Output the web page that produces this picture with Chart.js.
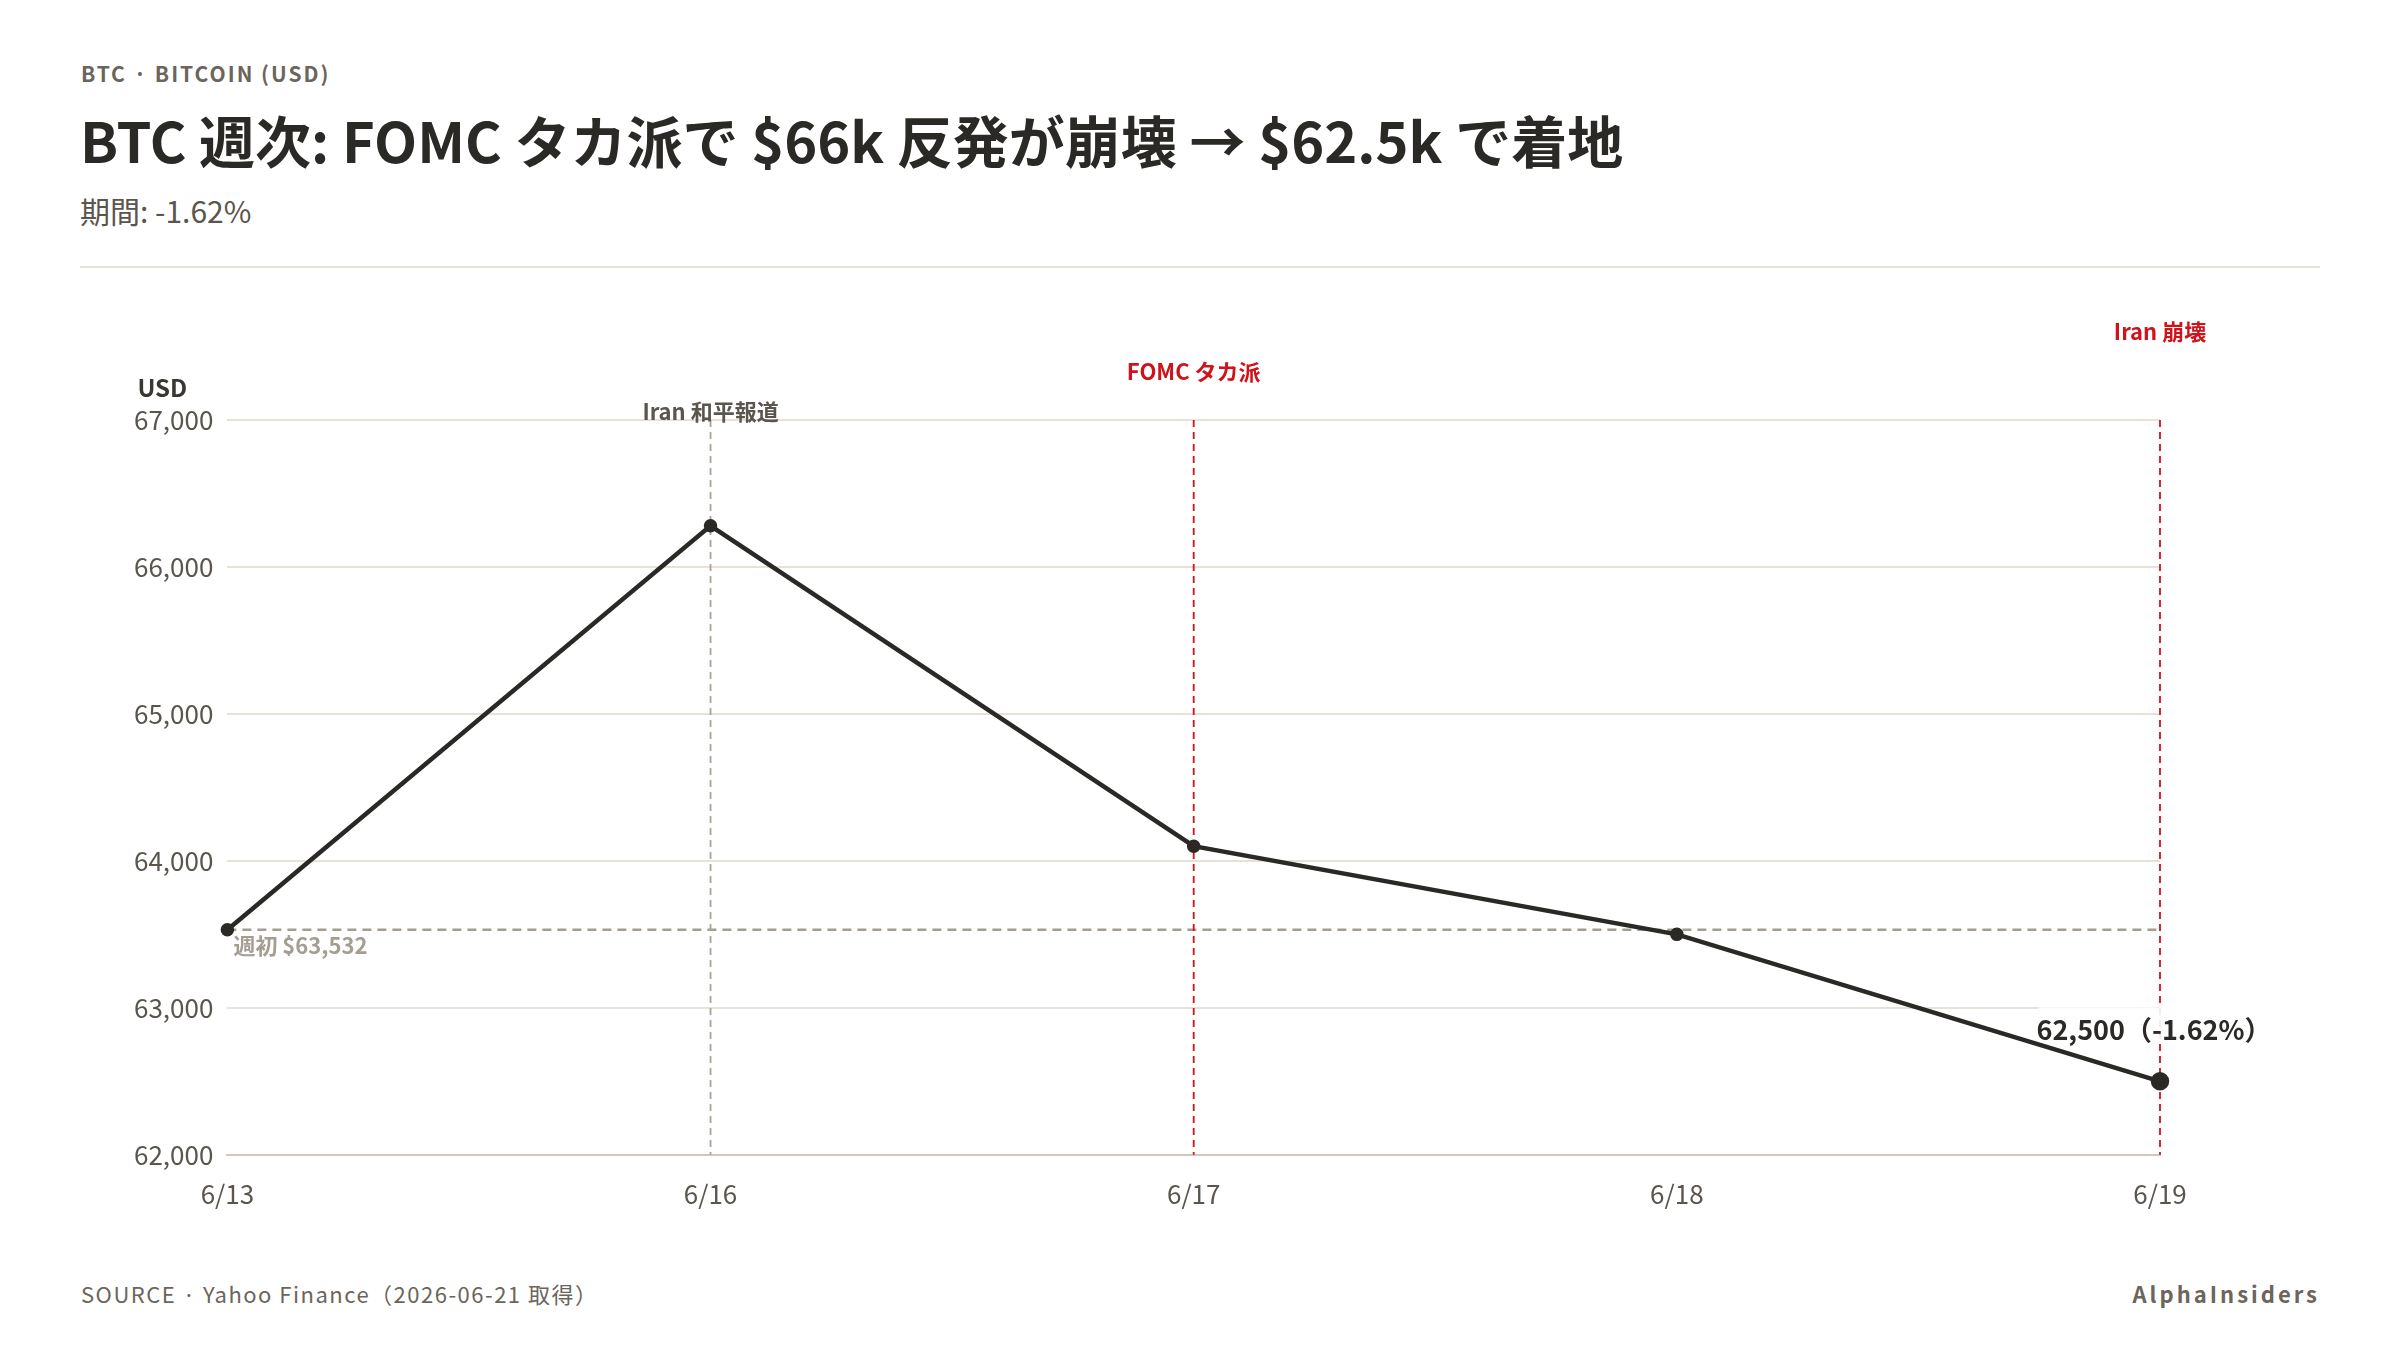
<!DOCTYPE html>
<html><head><meta charset="utf-8">
<script src="https://cdn.jsdelivr.net/npm/chart.js@4"></script>
<style>
body{margin:0;width:2400px;height:1350px;background:#fff;font-family:"Noto Sans CJK JP","Noto Sans",sans-serif;position:relative;overflow:hidden}
.kick{position:absolute;left:81px;top:58px;font-size:21px;letter-spacing:2px;color:#6b655b;font-weight:600}
h1{position:absolute;left:80px;top:98px;margin:0;font-size:56px;color:#2b2926;font-weight:700}
.sub{position:absolute;left:80px;top:188px;font-size:30px;color:#5a554d}
.rule{position:absolute;left:80px;right:80px;top:266px;height:2px;background:#e6e2d8}
.foot{position:absolute;left:81px;top:1277px;font-size:22px;letter-spacing:1.5px;color:#6b655b}
.brand{position:absolute;right:80px;top:1277px;font-size:22px;letter-spacing:3px;color:#6b655b;font-weight:600}
#wrap{position:absolute;left:0;top:300px;width:2400px;height:940px}
</style></head><body>
<div class="kick">BTC · BITCOIN (USD)</div>
<h1>BTC 週次: FOMC タカ派で $66k 反発が崩壊 → $62.5k で着地</h1>
<div class="sub">期間: -1.62%</div>
<div class="rule"></div>
<div id="wrap"><canvas id="c"></canvas></div>
<div class="foot">SOURCE · Yahoo Finance（2026-06-21 取得）</div>
<div class="brand">AlphaInsiders</div>
<script>
const labels = ['6/13', '6/16', '6/17', '6/18', '6/19'];
const prices = [63532, 66280, 64100, 63500, 62500];
const weekOpen = 63532;
const events = [
  { at: '6/16', text: 'Iran 和平報道', color: '#8a8478', rise: 0 },
  { at: '6/17', text: 'FOMC タカ派', color: '#d0121b', rise: 40 },
  { at: '6/19', text: 'Iran 崩壊', color: '#d0121b', rise: 80 }
];
const font = '"Noto Sans CJK JP","Noto Sans",sans-serif';

const overlay = {
  id: 'overlay',
  beforeDatasetsDraw(chart) {
    const { ctx, chartArea: a, scales: { x, y } } = chart;
    ctx.save();
    // week open line
    const yo = y.getPixelForValue(weekOpen);
    ctx.setLineDash([9, 6]); ctx.lineWidth = 2.5; ctx.strokeStyle = '#a39d92';
    ctx.beginPath(); ctx.moveTo(a.left, yo); ctx.lineTo(a.right, yo); ctx.stroke();
    // event lines
    events.forEach(e => {
      const px = x.getPixelForValue(labels.indexOf(e.at));
      ctx.setLineDash([7, 5]); ctx.lineWidth = 1.8;
      ctx.strokeStyle = e.color === '#d0121b' ? '#d0121b' : '#aaa398';
      ctx.beginPath(); ctx.moveTo(px, a.top); ctx.lineTo(px, a.bottom); ctx.stroke();
      ctx.setLineDash([]);
      ctx.fillStyle = e.color === '#d0121b' ? e.color : '#5a554d';
      ctx.font = '700 22px ' + font; ctx.textAlign = 'center'; ctx.textBaseline = 'bottom';
      ctx.fillText(e.text, px, a.top - e.rise + 3);
    });
    ctx.setLineDash([]);
    ctx.fillStyle = '#a39d92'; ctx.font = '700 22px ' + font;
    ctx.textAlign = 'left'; ctx.textBaseline = 'top';
    ctx.fillText('週初 $63,532', a.left + 6, yo + 5);
    ctx.fillStyle = '#3a3631'; ctx.font = '700 24px ' + font; ctx.textAlign = 'left'; ctx.textBaseline = 'bottom';
    ctx.fillText('USD', a.left - 90, a.top - 20);
    ctx.restore();
  },
  afterDatasetsDraw(chart) {
    const { ctx, scales: { x, y } } = chart;
    const i = prices.length - 1;
    const px = x.getPixelForValue(i), py = y.getPixelForValue(prices[i]);
    const txt = prices[i].toLocaleString('en-US') + '（-1.62%）';
    ctx.save();
    ctx.font = '700 27px ' + font; ctx.textAlign = 'center'; ctx.textBaseline = 'bottom';
    const w = ctx.measureText(txt).width;
    ctx.fillStyle = 'rgba(255,255,255,0.9)';
    ctx.fillRect(px - w / 2 - 4, py - 74, w - 10, 32);
    ctx.fillStyle = '#2b2926';
    ctx.fillText(txt, px - 6, py - 38);
    ctx.restore();
  }
};

new Chart(document.getElementById('c'), {
  type: 'line',
  data: {
    labels: labels,
    datasets: [{
      data: prices,
      borderColor: '#2b2926',
      backgroundColor: '#2b2926',
      borderWidth: 4.5,
      tension: 0,
      pointRadius: prices.map((v, i) => i === prices.length - 1 ? 7 : 4.5),
      pointBackgroundColor: '#2b2926'
    }]
  },
  options: {
    responsive: true,
    maintainAspectRatio: false,
    animation: false,
    layout: { padding: { left: 120, right: 240, top: 120, bottom: 6 } },
    plugins: { legend: { display: false }, tooltip: { enabled: false } },
    scales: {
      x: {
        offset: false,
        grid: { display: false, drawTicks: false },
        border: { color: '#cfc9bd', width: 2 },
        ticks: { color: '#5a554d', font: { size: 26, family: font }, padding: 24 }
      },
      y: {
        min: 62000, max: 67000,
        grid: { color: '#e6e2d8', lineWidth: 2, drawTicks: false },
        border: { display: false },
        ticks: { stepSize: 1000, color: '#5a554d', font: { size: 26, family: font }, padding: 14,
          callback: v => v.toLocaleString('en-US') }
      }
    }
  },
  plugins: [overlay]
});
</script>
</body></html>
